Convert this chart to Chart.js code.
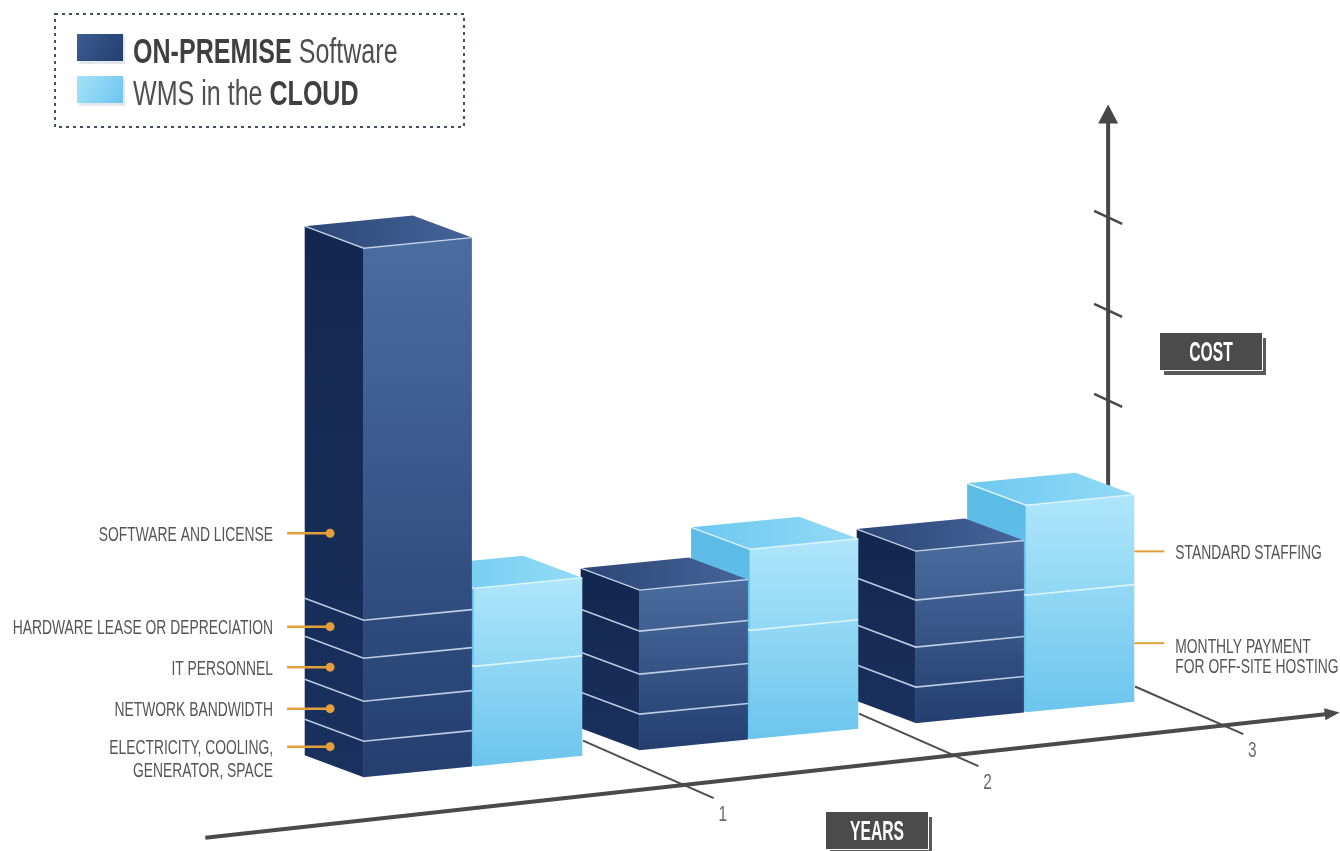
<!DOCTYPE html>
<html>
<head>
<meta charset="utf-8">
<script src="https://cdn.jsdelivr.net/npm/chart.js@4.4.1/dist/chart.umd.min.js"></script>
<style>
  html, body { margin: 0; padding: 0; background: #ffffff; }
  #wrap { width: 1340px; height: 851px; }
</style>
</head>
<body>
<div id="wrap"><canvas id="costChart" width="1340" height="851"></canvas></div>
<script>
const years = ['Year 1', 'Year 2', 'Year 3'];
const yearTicks = ['1', '2', '3'];

// on-premise blocks, bottom to top
const electricity = [3.6, 3.6, 3.6];
const bandwidth = [4.0, 4.0, 4.0];
const itPersonnel = [4.3, 4.3, 4.7];
const hardware = [3.8, 4.1, 4.9];
const software = [37.2, 0, 0];

// cloud blocks, bottom to top
const hosting = [10.0, 10.9, 11.7];
const staffing = [7.8, 8.1, 9.0];

// decorative ticks on the COST axis
const costTicks = [27.8, 36.8, 46.1];
const costAxisTop = 57.4;

const legendItems = [
  { parts: [['ON-PREMISE', true], [' Software', false]], stack: 'premise' },
  { parts: [['WMS in the ', false], ['CLOUD', true]], stack: 'cloud' }
];

// projection of the fake 3d view
const SKEW = 0.098;
const DEPTH_X = -59, DEPTH_Y = -22;
const GRID_SLOPE = 0.44;

const looks = {
  premise: { frontTop: '#4b6c9f', frontBottom: '#243e70', side: '#132750', sideBottom: '#1a315e',
             topLeft: '#2c4676', topRight: '#46659b', seam: 'rgba(205,220,240,0.9)' },
  cloud: { frontTop: '#afe6fb', frontBottom: '#6cc5ed', side: '#5dbce6', sideBottom: '#69c3ec',
           topLeft: '#6cc8ef', topRight: '#93dbf7', seam: 'rgba(225,245,255,0.95)' }
};

const LABEL_FONT = '21px "Liberation Sans", Arial, sans-serif';
const LABEL_SQUEEZE = 0.66;

function squeezeText(ctx, text, x, y, font, sx, align) {
  ctx.save();
  ctx.font = font;
  ctx.textBaseline = 'alphabetic';
  ctx.textAlign = 'left';
  const w = ctx.measureText(text).width * sx;
  const x0 = align === 'right' ? x - w : align === 'center' ? x - w / 2 : x;
  ctx.translate(x0, y);
  ctx.scale(sx, 1);
  ctx.fillText(text, 0, 0);
  ctx.restore();
  return w;
}

function stackSegments(chart, stack, j) {
  const segs = [];
  chart.data.datasets.forEach((ds, i) => {
    if (ds.stack !== stack || !ds.data[j]) return;
    const p = chart.getDatasetMeta(i).data[j].getProps(['x', 'y', 'base', 'width'], true);
    segs.push({ ds, j, left: p.x - p.width / 2, right: p.x + p.width / 2, top: p.y, bottom: p.base });
  });
  return segs;
}

function polyFill(ctx, pts, fill) {
  ctx.beginPath();
  pts.forEach((p, k) => k ? ctx.lineTo(p[0], p[1]) : ctx.moveTo(p[0], p[1]));
  ctx.closePath();
  ctx.fillStyle = fill;
  ctx.fill();
}

function polyLine(ctx, pts, color, width) {
  ctx.beginPath();
  pts.forEach((p, k) => k ? ctx.lineTo(p[0], p[1]) : ctx.moveTo(p[0], p[1]));
  ctx.strokeStyle = color;
  ctx.lineWidth = width;
  ctx.stroke();
}

function drawBox(ctx, segs, look, P) {
  const l = segs[0].left, r = segs[0].right;
  const bottom = segs[0].bottom, top = segs[segs.length - 1].top;

  const sg = ctx.createLinearGradient(0, P(l, top, 0)[1], 0, P(l, bottom, 0)[1]);
  sg.addColorStop(0, look.side);
  sg.addColorStop(1, look.sideBottom);
  polyFill(ctx, [P(l, bottom, 0), P(l, top, 0), P(l, top, 1), P(l, bottom, 1)], sg);

  const fg = ctx.createLinearGradient(0, P(r, top, 0)[1], 0, P(l, bottom, 0)[1]);
  fg.addColorStop(0, look.frontTop);
  fg.addColorStop(1, look.frontBottom);
  polyFill(ctx, [P(l - 0.5, bottom, 0), P(r, bottom, 0), P(r, top, 0), P(l - 0.5, top, 0)], fg);

  segs.slice(0, -1).forEach(s => {
    polyLine(ctx, [P(l, s.top, 1), P(l, s.top, 0), P(r, s.top, 0)], look.seam, 1.6);
  });

  const tg = ctx.createLinearGradient(P(l, top, 1)[0], 0, P(r, top, 0)[0], 0);
  tg.addColorStop(0, look.topLeft);
  tg.addColorStop(1, look.topRight);
  polyFill(ctx, [P(l, top, 0), P(r, top, 0), P(r, top, 1), P(l, top, 1)], tg);
  polyLine(ctx, [P(l, top, 1), P(l, top, 0), P(r, top, 0)], look.seam, 1.4);
}

function tagBox(ctx, text, cx, cy) {
  const w = 102, h = 37;
  const x = Math.round(cx - w / 2), y = Math.round(cy - h / 2);
  ctx.fillStyle = '#5a5a5a';
  ctx.fillRect(x + 4, y + 5, w, h);
  ctx.fillStyle = '#ffffff';
  ctx.fillRect(x - 1, y - 1, w + 2, h + 2);
  ctx.fillStyle = '#4b4b4b';
  ctx.fillRect(x, y, w, h);
  ctx.fillStyle = '#ffffff';
  squeezeText(ctx, text, cx, cy + 10, 'bold 28px "Liberation Sans", Arial, sans-serif', 0.56, 'center');
}

const scene3d = {
  id: 'scene3d',
  afterDatasetsDraw(chart) {
    const ctx = chart.ctx;
    const xs = chart.scales.x, ys = chart.scales.y;
    const xRef = chart.chartArea.left;
    const P = (u, v, back) => [u + back * DEPTH_X, v - SKEW * (u - xRef) + back * DEPTH_Y];
    const floorPx = ys.getPixelForValue(0);

    ctx.save();
    ctx.lineCap = 'butt';

    // years axis (in front of the floor)
    const ax0 = P(xs.getPixelForValue(-0.97), floorPx, 0);
    const ax1 = P(xs.getPixelForValue(3.14), floorPx, 0);
    ax0[1] += 45; ax1[1] += 31;
    const axSlope = (ax1[1] - ax0[1]) / (ax1[0] - ax0[0]);

    // depth grid lines at year boundaries
    yearTicks.forEach((t, k) => {
      const f = P(xs.getPixelForValue(k + 0.5), floorPx, 0);
      const start = [f[0] - 28, f[1] - 28 * GRID_SLOPE];
      // meet the years axis, then run a little past it (shorter further away)
      const cross = (ax0[1] - axSlope * ax0[0] - f[1] + GRID_SLOPE * f[0]) / (GRID_SLOPE - axSlope);
      const endX = cross + 30 - 5 * k;
      const end = [endX, f[1] + (endX - f[0]) * GRID_SLOPE];
      polyLine(ctx, [start, end], '#4d4d4d', 2);
      ctx.fillStyle = '#6a6a6a';
      squeezeText(ctx, t, end[0] + 9, end[1] + 23, '22px "Liberation Sans", Arial, sans-serif', 0.7, 'center');
    });

    // cost axis standing behind the last cloud box
    const cu = xs.getPixelForValue(2.5);
    const cBase = P(cu, floorPx, 0.93);
    const cTop = P(cu, ys.getPixelForValue(costAxisTop), 0.93);
    polyLine(ctx, [cBase, [cTop[0], cTop[1] + 12]], '#474747', 4);
    polyFill(ctx, [[cTop[0], cTop[1]], [cTop[0] + 10, cTop[1] + 19], [cTop[0] - 10, cTop[1] + 19]], '#474747');
    costTicks.forEach(v => {
      const c = P(cu, ys.getPixelForValue(v), 0.93);
      polyLine(ctx, [[c[0] - 14, c[1] - 14 * 0.46], [c[0] + 14, c[1] + 14 * 0.46]], '#474747', 2.5);
    });

    // boxes, far (right) to near (left)
    for (let j = years.length - 1; j >= 0; j--) {
      ['cloud', 'premise'].forEach(stack => {
        const segs = stackSegments(chart, stack, j);
        if (segs.length) drawBox(ctx, segs, looks[stack], P);
      });
    }

    // years axis line with arrow
    polyLine(ctx, [ax0, [ax1[0] - 10, ax1[1] - 10 * axSlope]], '#4a4a4a', 4);
    const ang = Math.atan(axSlope);
    ctx.save();
    ctx.translate(ax1[0], ax1[1]);
    ctx.rotate(ang);
    polyFill(ctx, [[0, 0], [-15, -6], [-15, 6]], '#4a4a4a');
    ctx.restore();

    // leader lines and labels, on-premise (left of first box)
    const first = stackSegments(chart, 'premise', 0);
    let cum = 0;
    first.forEach(s => {
      const val = s.ds.data[0];
      const dot = P(s.left, ys.getPixelForValue(cum + s.ds.pin * val), 0.57);
      cum += val;
      polyLine(ctx, [[dot[0] - 43, dot[1]], dot], '#e3a03a', 2.5);
      ctx.beginPath();
      ctx.arc(dot[0], dot[1], 4.5, 0, Math.PI * 2);
      ctx.fillStyle = '#e3a03a';
      ctx.fill();
      ctx.fillStyle = '#555555';
      s.ds.lines.forEach((line, n) => {
        squeezeText(ctx, line, dot[0] - 57, dot[1] + 7.5 + n * 23, LABEL_FONT, LABEL_SQUEEZE, 'right');
      });
    });

    // leader lines and labels, cloud (right of last box)
    const last = stackSegments(chart, 'cloud', years.length - 1);
    cum = 0;
    last.forEach(s => {
      const val = s.ds.data[years.length - 1];
      const a = P(s.right, ys.getPixelForValue(cum + s.ds.pin * val), 0);
      cum += val;
      polyLine(ctx, [a, [a[0] + 30, a[1]]], '#e3a03a', 2);
      ctx.fillStyle = '#555555';
      const lift = s.ds.lines.length > 1 ? 10 : 7.5;
      s.ds.lines.forEach((line, n) => {
        squeezeText(ctx, line, a[0] + 41, a[1] + lift + n * 20, LABEL_FONT, LABEL_SQUEEZE, 'left');
      });
    });

    // axis name tags
    tagBox(ctx, 'COST', 1211, 351);
    tagBox(ctx, 'YEARS', 877, 830);

    // legend
    ctx.setLineDash([3, 4]);
    ctx.strokeStyle = '#44505e';
    ctx.lineWidth = 2;
    ctx.strokeRect(55, 14, 409, 113);
    ctx.setLineDash([]);
    legendItems.forEach((item, n) => {
      const y = 34 + n * 42;
      const look = looks[item.stack];
      ctx.fillStyle = '#e4e8ee';
      ctx.fillRect(79, y + 2, 46, 28);
      const g = ctx.createLinearGradient(77, y, 123, y + 28);
      g.addColorStop(0, item.stack === 'premise' ? '#3d5c90' : '#a6e2fa');
      g.addColorStop(1, look.frontBottom);
      ctx.fillStyle = g;
      ctx.fillRect(77, y, 46, 27);
      let x = 133;
      item.parts.forEach(([txt, bold]) => {
        ctx.fillStyle = bold ? '#3f3f3f' : '#4f4f4f';
        x += squeezeText(ctx, txt, x, y + 29, (bold ? 'bold ' : '') + '35px "Liberation Sans", Arial, sans-serif', 0.716, 'left');
      });
    });

    ctx.restore();
  }
};

const clear = 'rgba(0,0,0,0)';
const datasets = [
  { label: 'Electricity, cooling, generator, space', data: electricity, stack: 'premise', pin: 0.5,
    lines: ['ELECTRICITY, COOLING,', 'GENERATOR, SPACE'] },
  { label: 'Network bandwidth', data: bandwidth, stack: 'premise', pin: 0.5, lines: ['NETWORK BANDWIDTH'] },
  { label: 'IT personnel', data: itPersonnel, stack: 'premise', pin: 0.5, lines: ['IT PERSONNEL'] },
  { label: 'Hardware lease or depreciation', data: hardware, stack: 'premise', pin: 0.5,
    lines: ['HARDWARE LEASE OR DEPRECIATION'] },
  { label: 'Software and license', data: software, stack: 'premise', pin: 0.2, lines: ['SOFTWARE AND LICENSE'] },
  { label: 'Monthly payment for off-site hosting', data: hosting, stack: 'cloud', pin: 0.5,
    lines: ['MONTHLY PAYMENT', 'FOR OFF-SITE HOSTING'] },
  { label: 'Standard staffing', data: staffing, stack: 'cloud', pin: 0.37, lines: ['STANDARD STAFFING'] }
].map(ds => ({ ...ds, backgroundColor: clear, borderWidth: 0 }));

new Chart(document.getElementById('costChart'), {
  type: 'bar',
  data: { labels: years, datasets },
  options: {
    responsive: false,
    animation: false,
    events: [],
    categoryPercentage: 0.8,
    barPercentage: 0.98,
    layout: { padding: { left: 335, right: 177, top: 180, bottom: 71 } },
    plugins: { legend: { display: false }, tooltip: { enabled: false }, title: { display: false } },
    scales: {
      x: { stacked: true, display: false },
      y: { stacked: true, display: false, min: 0, max: 60 }
    }
  },
  plugins: [scene3d]
});
</script>
</body>
</html>
